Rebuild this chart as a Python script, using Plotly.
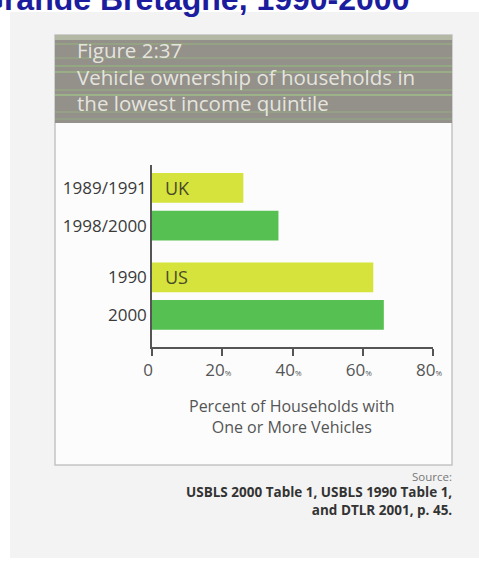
import plotly.graph_objects as go

# ---- data ----
countries = ["UK", "US"]
periods = [["1989/1991", "1998/2000"], ["1990", "2000"]]
ownership_pct = [[26, 36], [63, 66]]
x_tick_values = [0, 20, 40, 60, 80]
x_tick_labels = ["0", "20", "40", "60", "80"]

# ---- canvas / plot-area geometry (pixels) ----
W, H = 479, 563
L, R, T, B = 152, 433, 165, 347


def px(x):
    return (x - L) / (R - L)


def py(y):
    return (B - y) / (B - T)


EARLY = "#d5e33c"
LATE = "#57c052"
GROUP_GAP = 0.37

y_pos, y_text, x_vals, colors = [], [], [], []
for g, (cty, pers, vals) in enumerate(zip(countries, periods, ownership_pct)):
    for i, (p, v) in enumerate(zip(pers, vals)):
        y_pos.append(g * (2 + GROUP_GAP) + i)
        y_text.append(p)
        x_vals.append(v)
        colors.append(EARLY if i == 0 else LATE)

fig = go.Figure(
    go.Bar(
        x=x_vals,
        y=y_pos,
        orientation="h",
        width=0.79,
        marker=dict(color=colors, line=dict(width=0)),
        hoverinfo="skip",
    )
)

shapes = [
    # page background
    dict(type="rect", xref="paper", yref="paper", x0=px(10), x1=px(480), y0=py(12), y1=py(558),
         fillcolor="#f3f3f3", line=dict(width=0), layer="below"),
    # figure panel
    dict(type="rect", xref="paper", yref="paper", x0=px(55), x1=px(452), y0=py(35), y1=py(465),
         fillcolor="#fcfcfc", line=dict(color="#c4c4c4", width=1.5), layer="below"),
    # header band
    dict(type="rect", xref="paper", yref="paper", x0=px(55), x1=px(452), y0=py(35), y1=py(123),
         fillcolor="#94918b", line=dict(width=0), layer="below"),
    dict(type="rect", xref="paper", yref="paper", x0=px(55), x1=px(452), y0=py(35), y1=py(40),
         fillcolor="#b3b8a4", line=dict(width=0), layer="below"),
]
for yy, c in [(44, "rgba(150,200,120,0.45)"), (58, "rgba(150,200,120,0.35)"),
              (66, "rgba(150,205,120,0.5)"), (72, "rgba(160,215,130,0.55)"),
              (90, "rgba(150,200,120,0.4)"), (95, "rgba(165,220,135,0.6)"),
              (112, "rgba(150,200,120,0.35)"), (119, "rgba(150,200,120,0.3)")]:
    shapes.append(dict(type="line", xref="paper", yref="paper", x0=px(55), x1=px(452),
                       y0=py(yy), y1=py(yy), line=dict(color=c, width=1.5), layer="below"))

annotations = [
    # page heading (partly off the top edge)
    dict(text="<b>Grande Bretagne, 1990-2000</b>", xref="paper", yref="paper", x=px(411), y=py(-1),
         xanchor="right", yanchor="middle", showarrow=False,
         font=dict(family="Liberation Sans", size=32, color="#1c1c9e")),
    # header text
    dict(text="Figure 2:37<br>Vehicle ownership of households in<br>the lowest income quintile",
         xref="paper", yref="paper", x=px(75), y=py(77), xanchor="left", yanchor="middle",
         align="left", showarrow=False,
         font=dict(family="Open Sans", size=20.5, color="rgba(240,240,232,0.9)")),
    # x axis title
    dict(text="Percent of Households with<br>One or More Vehicles", xref="paper", yref="paper",
         x=px(291), y=py(416), xanchor="center", yanchor="middle", showarrow=False,
         font=dict(family="Open Sans", size=16, color="#555555")),
    # source
    dict(text="Source:", xref="paper", yref="paper", x=px(454), y=py(476),
         xanchor="right", yanchor="middle", showarrow=False,
         font=dict(family="Open Sans", size=11.5, color="#777777")),
    dict(text="<b>USBLS 2000 Table 1, USBLS 1990 Table 1,</b><br><b>and DTLR 2001, p. 45.</b>",
         xref="paper", yref="paper", x=px(454), y=py(501), xanchor="right", yanchor="middle",
         align="right", showarrow=False,
         font=dict(family="Open Sans", size=13.5, color="#333333")),
]

# country labels inside the first bar of each group
for g, cty in enumerate(countries):
    annotations.append(dict(text=cty, x=3, y=g * (2 + GROUP_GAP), xref="x", yref="y",
                            xanchor="left", yanchor="middle", showarrow=False,
                            font=dict(family="Open Sans", size=18, color="#4a4a2a")))

fig.update_layout(
    width=W, height=H,
    margin=dict(l=L, r=W - R, t=T, b=H - B, pad=0),
    paper_bgcolor="white",
    plot_bgcolor="rgba(0,0,0,0)",
    showlegend=False,
    shapes=shapes,
    annotations=annotations,
    xaxis=dict(
        range=[0, 80], tickvals=x_tick_values,
        ticktext=[t if t == "0" else t + "<span style='font-size:8px'>%</span>" for t in x_tick_labels],
        ticks="outside", ticklen=7, tickwidth=1.5, tickcolor="#555555",
        showline=True, linecolor="#555555", linewidth=1.5,
        showgrid=False, zeroline=False, ticklabelshift=-4,
        tickfont=dict(family="Open Sans", size=17, color="#555555"),
    ),
    yaxis=dict(
        range=[y_pos[-1] + 0.85, -0.61], tickvals=y_pos, ticktext=y_text,
        ticks="", showline=True, linecolor="#555555", linewidth=1.5,
        showgrid=False, zeroline=False, ticklabelstandoff=0,
        tickfont=dict(family="Open Sans", size=17, color="#3a3a3a"),
    ),
)

fig.write_html("out.html")
